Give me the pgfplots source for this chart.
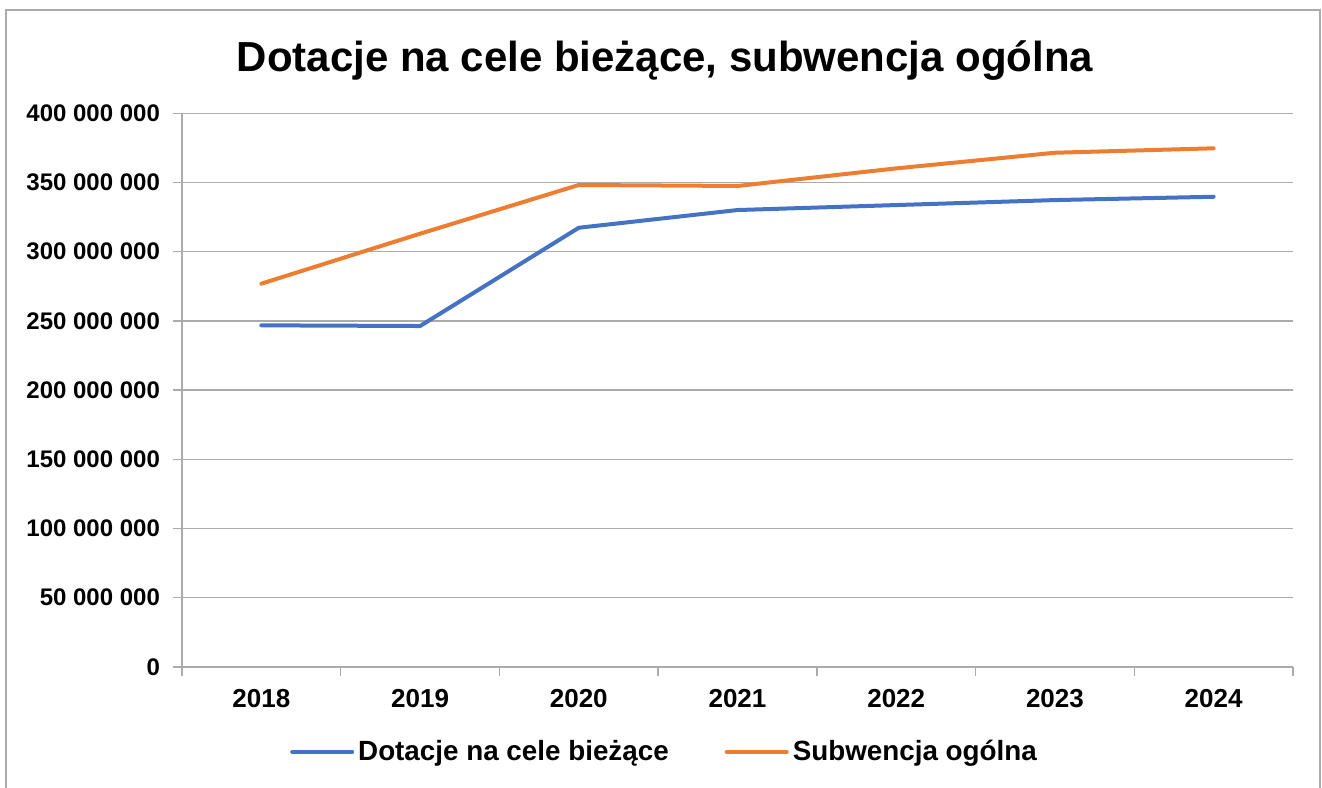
\documentclass[border=0pt]{standalone}
\usepackage{pgfplots}
\pgfplotsset{compat=1.18}
\usepackage{fontspec}
\setmainfont{Liberation Sans}
\definecolor{exblue}{HTML}{4472C4}
\definecolor{exorange}{HTML}{ED7D31}
\definecolor{gridgray}{HTML}{ABABAB}
\begin{document}
\begin{tikzpicture}
\path[use as bounding box] (0,0) rectangle (661pt,393.5pt);
\draw[gridgray, line width=1pt] (3pt,-5pt) -- (3pt,388.5pt) -- (660pt,388.5pt) -- (660pt,-5pt);
\node[font=\bfseries\fontsize{21}{25}\selectfont] at (332.5pt,363pt) {Dotacje na cele bieżące, subwencja ogólna};
\begin{axis}[
  at={(91pt,60.05pt)}, anchor=south west,
  width=555.5pt, height=276.8pt, scale only axis,
  xmin=-0.5, xmax=6.5, ymin=0, ymax=400,
  xtick={-0.5,0.5,...,6.5}, xticklabels={},
  extra x ticks={0,1,2,3,4,5,6},
  extra x tick labels={2018,2019,2020,2021,2022,2023,2024},
  extra x tick style={tick style={draw=none}},
  ytick={0,50,...,400},
  yticklabels={0,50 000 000,100 000 000,150 000 000,200 000 000,250 000 000,300 000 000,350 000 000,400 000 000},
  ymajorgrids, grid style={gridgray, line width=0.75pt},
  axis x line*=bottom, axis y line*=left,
  axis line style={-, gridgray, line width=0.75pt},
  tick align=outside, tick style={gridgray, line width=0.75pt},
  major tick length=4.5pt,
  /pgf/number format/assume math mode=true,
  yticklabel style={font=\bfseries\fontsize{12}{14}\selectfont, xshift=-3pt},
  xticklabel style={font=\bfseries\fontsize{13}{15}\selectfont, yshift=-3pt},
  legend style={at={(0.4352,-0.1535)}, anchor=center, draw=none, fill=none,
    font=\bfseries\fontsize{13.9}{16}\selectfont, legend columns=2,
    /tikz/every even column/.append style={column sep=26pt}},
  legend image code/.code={\draw[#1] (0pt,0pt) -- (30pt,0pt);},
  legend cell align=left,
]
\addplot[exblue, line width=2pt, line join=round, line cap=round] coordinates {
  (0,246.8) (1,246.3) (2,317.3) (3,330.1) (4,333.7) (5,337.3) (6,339.7)};
\addlegendentry{Dotacje na cele bieżące}
\addplot[exorange, line width=2pt, line join=round, line cap=round] coordinates {
  (0,276.9) (1,313.0) (2,348.2) (3,347.5) (4,360.2) (5,371.5) (6,374.7)};
\addlegendentry{Subwencja ogólna}
\end{axis}
\end{tikzpicture}
\end{document}
